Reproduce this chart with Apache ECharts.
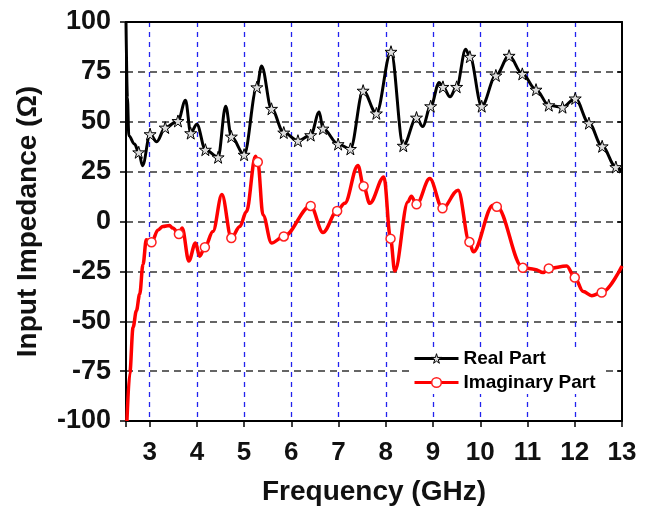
<!DOCTYPE html>
<html style="height: 100%">
<head>
    <meta charset="utf-8">
    <title>Input Impedance</title>
</head>
<body style="margin: 0; background: #fff">
<div id="container" style="width: 650px; height: 511px"></div>

<script src="https://cdn.jsdelivr.net/npm/echarts@6/dist/echarts.min.js" type="text/javascript"></script>

<script type="text/javascript">

    // [frequency GHz, ohm, marker?]
    var realPart = [
        [2.5, 100, 0], [2.53, 62, 0], [2.56, 43, 0], [2.68, 38.8, 0], [2.77, 34.7, 1], [2.85, 28, 0],
        [3.01, 43.8, 1], [3.15, 40, 0], [3.33, 47.1, 1], [3.6, 50.4, 1], [3.76, 60.8, 0], [3.87, 44.3, 1],
        [4.0, 48.8, 0], [4.18, 36, 1], [4.45, 32.2, 1], [4.61, 57.8, 0], [4.73, 42.6, 1], [5.0, 33.5, 1],
        [5.27, 67.3, 1], [5.37, 78, 0], [5.58, 56.5, 1], [5.84, 44.6, 1], [6.14, 40.5, 1], [6.41, 43.3, 1],
        [6.59, 54.9, 0], [6.67, 46.6, 1], [6.99, 38.8, 1], [7.25, 36.4, 1], [7.52, 65.6, 1], [7.8, 54.2, 1],
        [8.11, 85.1, 1], [8.37, 38, 1], [8.65, 52.1, 1], [8.78, 47.6, 0], [8.95, 57.8, 1], [9.13, 69.7, 0],
        [9.21, 67.5, 1], [9.36, 62.5, 0], [9.5, 67.5, 1], [9.69, 86.3, 0], [9.78, 82.6, 1], [10.03, 57.8, 1],
        [10.33, 73.2, 1], [10.61, 83.1, 1], [10.89, 74, 1], [11.18, 66.1, 1], [11.45, 58.3, 1], [11.74, 57.3, 1],
        [12.01, 61.7, 1], [12.3, 49.3, 1], [12.58, 37.7, 1], [12.87, 27.3, 1], [13, 25, 0]
    ];

    var imagPart = [
        [2.52, -100, 0], [2.58, -76, 0], [2.65, -53, 0], [2.72, -44.7, 0], [2.79, -36.4, 0], [2.86, -21.5, 0],
        [2.93, -9.1, 0], [3.04, -10.4, 1], [3.18, -4.2, 0], [3.28, -2.5, 0], [3.42, -2, 0], [3.49, -3.3, 0],
        [3.62, -6.3, 1], [3.69, -3.3, 0], [3.83, -19.8, 0], [3.97, -10.8, 0], [4.06, -17.4, 0], [4.17, -12.9, 1],
        [4.34, -5, 0], [4.53, 13.5, 0], [4.73, -8.3, 1], [4.91, -2.5, 0], [5.05, 5, 0], [5.24, 32.7, 0],
        [5.29, 29.8, 1], [5.4, 3.3, 0], [5.58, -10.8, 0], [5.84, -7.5, 1], [6.41, 7.8, 1], [6.67, -5.5, 0],
        [6.97, 5.3, 1], [7.13, 9.1, 0], [7.41, 28.1, 0], [7.53, 17.7, 1], [7.66, 9.1, 0], [7.96, 22.3, 0],
        [8.1, -8.6, 1], [8.19, -24.8, 0], [8.47, 9.9, 0], [8.54, 12.7, 0], [8.65, 8.6, 1], [8.93, 21.5, 0],
        [9.2, 6.6, 1], [9.53, 15.7, 0], [9.77, -10.3, 1], [9.85, -15.2, 0], [10.27, 8.2, 0], [10.35, 7.4, 1],
        [10.9, -23.2, 1], [11.16, -24, 0], [11.33, -25.6, 0], [11.45, -23.5, 1], [11.83, -22.3, 0], [12.0, -28.1, 1],
        [12.18, -35.1, 0], [12.36, -37.2, 0], [12.57, -35.6, 1], [13, -22.3, 0]
    ];

    var starPath = 'path://M50,0 L61,35 L98,35 L68,57 L79,91 L50,70 L21,91 L32,57 L2,35 L39,35 Z';

    function toData(pts, sym) {
        return pts.map(function (p) {
            return { value: [p[0], p[1]], symbol: p[2] ? sym : 'none' };
        });
    }

    var font = '"Liberation Sans", Arial, sans-serif';

    var dom = document.getElementById('container');
    var myChart = echarts.init(dom, null, { renderer: 'canvas' });

    var option = {
        animation: false,
        backgroundColor: '#fff',
        grid: { left: 126, right: 28, top: 22, bottom: 86 },
        legend: {
            left: 409,
            top: 347,
            orient: 'vertical',
            itemWidth: 44,
            itemHeight: 12,
            itemGap: 5,
            padding: [2, 6, 2, 4],
            backgroundColor: '#fff',
            lineStyle: { width: 3 },
            textStyle: { fontFamily: font, fontWeight: 'bold', fontSize: 19, color: '#000' },
            data: [
                { name: 'Real Part', itemStyle: { color: '#ddd', borderColor: '#000', borderWidth: 1 } },
                { name: 'Imaginary Part', itemStyle: { color: '#fff', borderColor: '#ff2020', borderWidth: 1.5 } }
            ]
        },
        xAxis: [{
            type: 'value',
            min: 2.5,
            max: 13,
            splitNumber: 10,
            name: 'Frequency (GHz)',
            nameLocation: 'middle',
            nameGap: 57,
            nameTextStyle: { fontFamily: font, fontWeight: 'bold', fontSize: 28, color: '#111' },
            axisLine: { onZero: false, lineStyle: { color: '#000', width: 2 } },
            axisTick: { length: 6, lineStyle: { color: '#000', width: 1.5 } },
            axisLabel: {
                margin: 19,
                fontFamily: font, fontWeight: 'bold', fontSize: 26, color: '#111',
                formatter: function (v) { return v % 1 === 0 ? String(v) : ''; }
            },
            splitLine: {
                show: true, showMinLine: false, showMaxLine: false,
                lineStyle: { color: '#2222ee', width: 1.3, type: [5, 5] }
            }
        }, {
            type: 'value',
            position: 'top',
            min: 2.5,
            max: 13,
            splitNumber: 10,
            axisLine: { onZero: false, lineStyle: { color: '#000', width: 2 } },
            axisTick: { show: false },
            axisLabel: { show: false },
            splitLine: { show: false }
        }],
        yAxis: [{
            type: 'value',
            min: -100,
            max: 100,
            interval: 25,
            name: 'Input Impedance (\u03a9)',
            nameLocation: 'middle',
            nameRotate: 90,
            nameGap: 84,
            nameTextStyle: { fontFamily: font, fontWeight: 'bold', fontSize: 28, color: '#111' },
            axisLine: { show: true, onZero: false, lineStyle: { color: '#000', width: 2 } },
            axisTick: { show: true, length: 6, lineStyle: { color: '#000', width: 1.5 } },
            axisLabel: { margin: 15, fontFamily: font, fontWeight: 'bold', fontSize: 27, color: '#111' },
            splitLine: {
                show: true, showMinLine: false, showMaxLine: false,
                lineStyle: { color: '#333', width: 1.5, type: [7, 5] }
            }
        }, {
            type: 'value',
            position: 'right',
            min: -100,
            max: 100,
            interval: 25,
            axisLine: { show: true, onZero: false, lineStyle: { color: '#000', width: 2 } },
            axisTick: { show: true, inside: true, length: 5, lineStyle: { color: '#000', width: 1.5 } },
            axisLabel: { show: false },
            splitLine: { show: false }
        }],
        series: [{
            name: 'Real Part',
            type: 'line',
            xAxisIndex: 0,
            yAxisIndex: 0,
            smooth: 0.35,
            smoothMonotone: 'x',
            symbol: starPath,
            symbolSize: 12,
            showAllSymbol: true,
            lineStyle: { color: '#000', width: 3 },
            itemStyle: { color: '#ddd', borderColor: '#000', borderWidth: 1 },
            data: toData(realPart, starPath),
            z: 3
        }, {
            name: 'Imaginary Part',
            type: 'line',
            xAxisIndex: 0,
            yAxisIndex: 0,
            smooth: 0.35,
            smoothMonotone: 'x',
            symbol: 'circle',
            symbolSize: 9,
            showAllSymbol: true,
            lineStyle: { color: '#ff0000', width: 3.5 },
            itemStyle: { color: '#fff', borderColor: '#ff2020', borderWidth: 1.5 },
            data: toData(imagPart, 'circle'),
            z: 2
        }]
    };

    if (option && typeof option === 'object') {
        myChart.setOption(option, true);
    }
</script>
</body>
</html>
